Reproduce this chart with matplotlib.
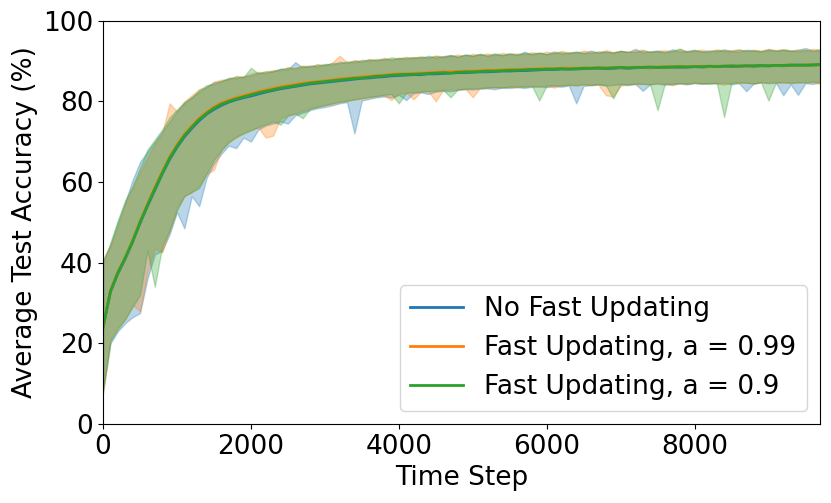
import numpy as np
import matplotlib
matplotlib.use("Agg")
import matplotlib.pyplot as plt

# accuracy curves, one point every 100 time steps
mean_none = [24.0, 32.8, 37.3, 41.0, 45.2, 49.8, 54.0, 58.0, 62.0, 65.6, 68.6, 71.2, 73.3, 75.2, 76.8, 78.0, 79.0, 79.8, 80.4, 80.9, 81.3,
             81.8, 82.3, 82.7, 83.1, 83.4, 83.7, 84.0, 84.3, 84.5, 84.7, 84.9, 85.1, 85.3, 85.5, 85.7, 85.8, 86.0, 86.1, 86.3, 86.4,
             86.5, 86.6, 86.6, 86.8, 86.8, 86.9, 87.0, 87.1, 87.1, 87.2, 87.3, 87.3, 87.4, 87.5, 87.5, 87.6, 87.6, 87.7, 87.8, 87.9,
             87.9, 88.0, 88.0, 88.0, 88.1, 88.1, 88.2, 88.1, 88.2, 88.3, 88.2, 88.3, 88.4, 88.3, 88.4, 88.4, 88.5, 88.4, 88.5, 88.6,
             88.5, 88.6, 88.6, 88.7, 88.6, 88.7, 88.8, 88.7, 88.8, 88.8, 88.9, 88.8, 88.9, 89.0, 88.9, 89.0, 89.1]
low_none = [8.0, 20.0, 23.0, 25.0, 26.5, 27.5, 36.0, 42.0, 43.0, 47.0, 52.5, 48.5, 56.5, 54.0, 61.0, 64.5, 67.0, 69.0, 68.4, 71.0, 70.0,
            73.0, 74.0, 74.5, 75.0, 74.5, 76.5, 77.2, 77.8, 78.3, 78.6, 79.0, 79.5, 79.8, 72.0, 80.2, 80.6, 81.0, 81.2, 81.0, 81.6,
            80.3, 82.0, 82.2, 81.8, 82.4, 82.6, 82.5, 82.8, 83.0, 82.9, 83.1, 83.2, 83.0, 83.4, 83.3, 83.5, 83.3, 83.6, 83.7, 83.5,
            83.8, 83.6, 83.9, 79.5, 83.8, 84.0, 84.2, 83.9, 84.1, 84.2, 84.0, 84.3, 82.6, 84.2, 84.4, 84.1, 84.3, 84.4, 84.2, 84.5,
            84.3, 84.5, 84.4, 84.6, 84.2, 84.5, 82.5, 84.4, 84.7, 84.5, 84.6, 81.5, 84.2, 81.6, 84.5, 84.3, 84.8]
high_none = [40.5, 44.5, 50.0, 55.0, 60.5, 65.0, 67.5, 70.0, 72.5, 75.0, 77.5, 79.5, 81.0, 82.3, 83.6, 84.8, 85.0, 85.8, 85.7, 86.2, 86.4,
             87.1, 87.0, 87.5, 88.1, 87.9, 89.7, 88.4, 88.9, 88.6, 89.3, 89.1, 89.8, 89.5, 90.1, 89.8, 90.4, 90.1, 90.6, 90.3, 90.8,
             90.5, 91.0, 90.7, 91.3, 90.8, 91.2, 91.5, 91.0, 91.6, 91.3, 91.8, 91.2, 91.7, 91.4, 91.9, 91.5, 92.3, 91.6, 92.0, 91.7,
             92.4, 91.8, 92.1, 92.3, 91.9, 92.6, 92.0, 92.4, 92.1, 92.5, 92.2, 93.0, 92.1, 92.4, 92.6, 92.2, 92.9, 92.3, 92.5, 92.8,
             92.3, 92.6, 92.4, 92.9, 92.5, 92.3, 92.8, 92.6, 92.4, 92.9, 92.6, 92.7, 92.5, 92.8, 93.2, 92.6, 92.9]

mean_099 = [24.0, 33.0, 37.6, 41.3, 45.5, 50.2, 54.5, 58.6, 62.5, 66.2, 69.2, 71.8, 73.9, 75.8, 77.3, 78.6, 79.6, 80.3, 80.9, 81.4, 81.9,
            82.4, 82.8, 83.2, 83.6, 83.9, 84.2, 84.5, 84.7, 84.9, 85.1, 85.3, 85.6, 85.7, 85.9, 86.1, 86.2, 86.4, 86.5, 86.7, 86.8,
            86.8, 86.9, 87.0, 87.1, 87.2, 87.3, 87.3, 87.4, 87.5, 87.5, 87.6, 87.7, 87.7, 87.8, 87.9, 87.9, 88.0, 88.0, 88.1, 88.1,
            88.1, 88.2, 88.2, 88.2, 88.3, 88.2, 88.3, 88.3, 88.4, 88.3, 88.4, 88.4, 88.5, 88.4, 88.5, 88.5, 88.6, 88.5, 88.6, 88.6,
            88.7, 88.6, 88.7, 88.7, 88.8, 88.7, 88.8, 88.8, 88.9, 88.8, 88.9, 88.9, 89.0, 88.9, 89.0, 89.0, 89.0]
low_099 = [7.5, 21.0, 24.0, 26.0, 29.5, 28.0, 37.5, 43.5, 42.5, 48.0, 53.5, 56.5, 57.5, 59.0, 62.0, 63.0, 68.0, 70.0, 71.0, 72.2, 73.0,
           73.5, 71.0, 71.5, 75.8, 76.5, 77.0, 77.6, 78.2, 78.7, 79.0, 79.4, 79.8, 80.2, 80.4, 80.7, 81.0, 81.3, 81.5, 80.3, 81.9,
           82.1, 80.5, 82.4, 82.5, 80.0, 82.8, 83.0, 82.9, 83.1, 81.0, 83.3, 83.4, 83.5, 83.4, 83.6, 83.5, 83.7, 83.8, 83.6, 83.9,
           83.4, 84.0, 84.1, 83.9, 84.2, 84.0, 84.1, 81.5, 81.2, 83.8, 84.3, 84.2, 84.4, 84.3, 84.5, 84.4, 83.9, 84.5, 84.3, 84.6,
           84.4, 84.6, 84.5, 84.1, 84.7, 84.5, 84.6, 84.4, 84.7, 84.6, 84.8, 84.5, 84.7, 84.6, 84.9, 84.7, 84.3]
high_099 = [41.0, 44.0, 49.0, 54.5, 58.5, 62.5, 66.0, 69.5, 72.0, 79.5, 77.5, 80.0, 81.5, 83.0, 83.5, 84.8, 85.4, 85.4, 86.3, 86.1, 86.9,
            87.3, 87.2, 87.8, 87.6, 88.5, 88.3, 88.9, 88.7, 89.2, 88.9, 89.6, 91.3, 89.7, 90.2, 90.0, 90.5, 90.2, 90.8, 90.4, 90.7,
            91.0, 90.9, 91.1, 90.8, 91.4, 91.1, 91.3, 91.6, 91.2, 91.8, 91.5, 91.9, 91.4, 92.0, 91.7, 91.9, 91.6, 92.2, 91.9, 92.3,
            92.0, 92.5, 92.2, 92.0, 92.6, 92.3, 92.1, 92.7, 92.2, 92.5, 92.3, 92.6, 92.8, 92.2, 92.5, 92.7, 92.3, 92.9, 92.4, 92.6,
            92.8, 92.5, 92.9, 92.6, 92.7, 92.9, 92.5, 92.8, 92.6, 93.0, 92.7, 92.9, 92.6, 92.8, 92.7, 93.0, 92.8]

mean_09 = [24.0, 32.9, 37.5, 41.2, 45.3, 50.0, 54.2, 58.3, 62.2, 65.9, 68.9, 71.5, 73.6, 75.5, 77.0, 78.3, 79.3, 80.0, 80.6, 81.1, 81.6,
           82.1, 82.5, 82.9, 83.3, 83.6, 83.9, 84.2, 84.5, 84.7, 84.9, 85.1, 85.3, 85.5, 85.7, 85.8, 86.0, 86.2, 86.3, 86.5, 86.6,
           86.7, 86.7, 86.8, 86.9, 87.0, 87.1, 87.0, 87.2, 87.3, 87.3, 87.4, 87.5, 87.5, 87.6, 87.7, 87.7, 87.8, 87.9, 87.9, 88.0,
           88.0, 88.1, 88.0, 88.1, 88.2, 88.2, 88.3, 88.2, 88.3, 88.4, 88.3, 88.4, 88.4, 88.5, 88.4, 88.5, 88.5, 88.6, 88.5, 88.6,
           88.6, 88.7, 88.6, 88.7, 88.8, 88.7, 88.8, 88.8, 88.9, 88.8, 88.9, 88.9, 89.0, 88.9, 89.0, 89.0, 89.1]
low_09 = [8.5, 20.5, 23.5, 26.0, 29.0, 32.0, 43.0, 34.0, 44.0, 48.0, 53.0, 56.5, 57.5, 58.5, 62.0, 65.5, 67.8, 69.8, 71.2, 72.0, 72.8,
          73.6, 74.3, 75.0, 74.2, 76.4, 77.0, 75.8, 78.2, 78.6, 79.1, 79.5, 79.9, 80.1, 80.5, 80.8, 81.1, 81.3, 81.6, 81.8, 79.5,
          82.1, 82.2, 82.4, 82.5, 82.6, 82.8, 81.0, 83.0, 83.1, 83.2, 83.3, 83.4, 83.5, 83.4, 83.6, 83.7, 83.6, 83.8, 80.2, 83.9,
          84.0, 83.9, 84.1, 84.0, 84.2, 84.1, 84.2, 84.0, 80.7, 84.3, 84.2, 84.4, 84.3, 84.1, 77.8, 84.4, 84.3, 84.5, 84.4, 84.6,
          84.5, 84.3, 84.6, 76.1, 84.5, 84.7, 84.6, 84.4, 84.7, 80.2, 84.6, 84.8, 84.5, 84.7, 84.6, 84.9, 84.7]
high_09 = [40.0, 45.0, 50.5, 55.5, 59.0, 63.5, 68.0, 70.5, 73.0, 76.0, 78.0, 79.8, 81.0, 82.8, 84.0, 84.3, 85.0, 85.7, 86.1, 86.0, 88.3,
           86.9, 87.5, 87.4, 88.0, 88.3, 88.2, 88.7, 88.6, 89.1, 89.0, 89.5, 89.4, 89.9, 89.7, 90.3, 90.1, 90.5, 90.3, 90.9, 90.6,
           90.9, 90.7, 91.1, 90.9, 91.2, 91.0, 91.4, 91.1, 91.6, 91.3, 91.7, 91.4, 91.9, 91.5, 91.8, 91.6, 92.0, 91.8, 92.1, 91.7,
           92.0, 92.2, 91.9, 92.3, 92.1, 92.0, 92.4, 92.2, 92.1, 92.5, 92.3, 92.2, 92.6, 92.3, 92.4, 92.2, 92.5, 93.1, 92.3, 92.6,
           92.4, 92.3, 92.7, 92.5, 92.4, 92.8, 92.5, 92.6, 92.4, 92.7, 92.5, 92.9, 92.6, 92.4, 92.7, 92.5, 92.6]

time_steps = np.arange(len(mean_none)) * 100

runs = [
    ("No Fast Updating", mean_none, low_none, high_none, "tab:blue"),
    ("Fast Updating, a = 0.99", mean_099, low_099, high_099, "tab:orange"),
    ("Fast Updating, a = 0.9", mean_09, low_09, high_09, "tab:green"),
]

plt.rcParams['font.size'] = 19
fig, ax = plt.subplots(figsize=(8.31, 5.03), dpi=100)
fig.subplots_adjust(left=0.124, right=0.987, bottom=0.157, top=0.959)

for label, mean, low, high, color in runs:
    ax.plot(time_steps, mean, color=color, linewidth=2, label=label)
    ax.fill_between(time_steps, low, high, color=color, alpha=0.3)

ax.set_xlim(0, time_steps[-1])
ax.set_ylim(0, 100)
ax.set_xlabel('Time Step')
ax.set_ylabel('Average Test Accuracy (%)')
ax.legend(loc='lower right')

fig.savefig('out.png', dpi=100)
